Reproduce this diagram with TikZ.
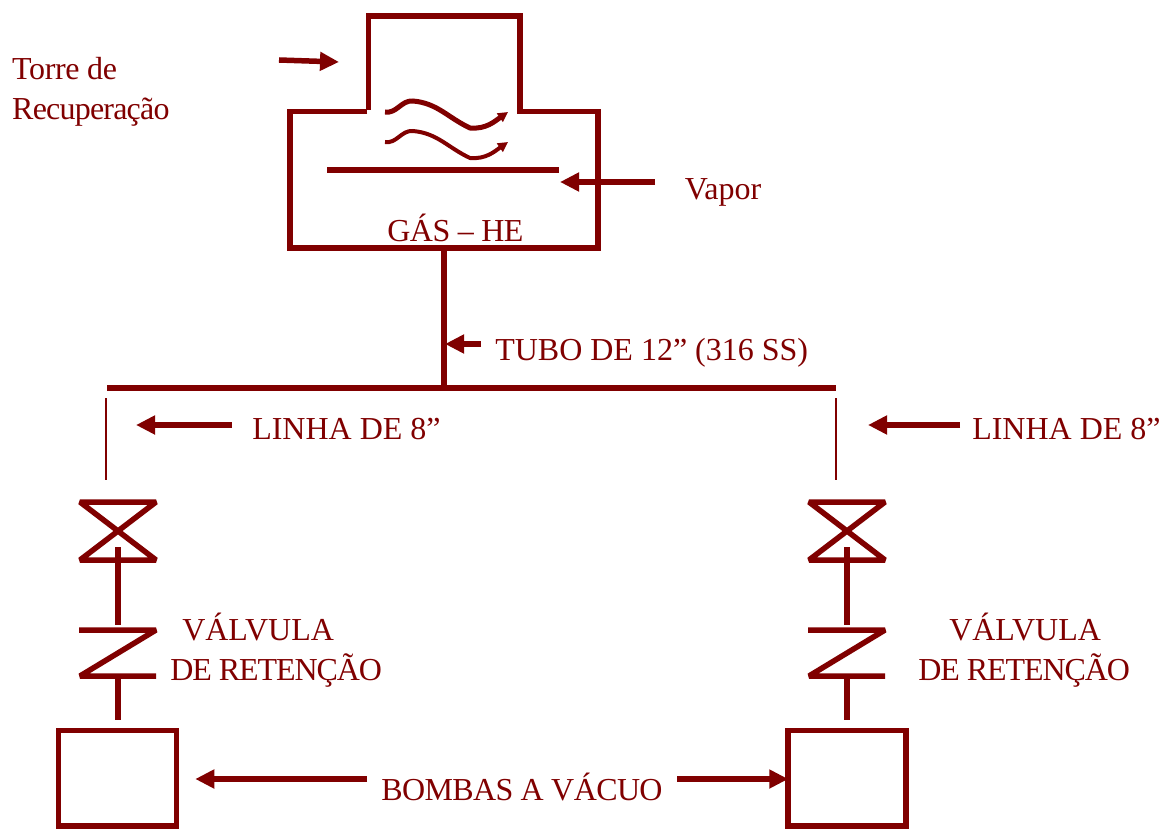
\documentclass[tikz,border=0pt]{standalone}
\usepackage{fontspec}
\setmainfont{Liberation Serif}
\usepackage{color,tikz}
\usetikzlibrary{arrows.meta}
\definecolor{tower}{RGB}{128,0,0}

\begin{document}
\begin{tikzpicture}[x=1pt,y=-1pt,line width=5.5pt,draw=tower,text=tower,
	lbl/.style ={anchor=base west, inner sep=0pt, font=\fontsize{32}{36}\selectfont},
	tight/.style ={font=\fontsize{32}{36}\selectfont\addfontfeature{LetterSpace=#1}},
	pump/.style ={rectangle, draw, line width=5.5pt, minimum width=118pt, minimum height=95.5pt},
	tip/.style ={-{Stealth[length=19pt,width=18pt,inset=0pt]}},
	wavetip/.style ={-{Stealth[length=10pt,width=10pt,inset=0pt]}},
	thin pipe/.style ={line width=1.5pt}]
		\useasboundingbox (0,0) rectangle (1161,829);
		% tower
		\draw[line join=miter] (367,111.5) -- (290,111.5) -- (290,248) -- (598,248) -- (598,111.5) -- (520,111.5) -- (520,16) -- (368.5,16) -- (368.5,110);
		\coordinate (p1) at (327,170);
		\coordinate (p2) at (559,170);
		\draw (p1) -- (p2);
		\draw[line width=5pt,wavetip] (385,112) [out=-10,in=175] to (413,101) [out=-5,in=155] to (470,128) [out=-5,in=215] to (508,112);
		\draw[line width=4pt,wavetip] (385,142) [out=-10,in=175] to (413,131) [out=-5,in=155] to (470,158) [out=-5,in=215] to (508,142);
		% texts
		\node[lbl,tight=-1.2] (torre) at (9.5,80) {Torre de};
		\node[lbl,tight=-2.5] (recup) at (9.5,120) {Recuperação};
		\node[lbl] (vapor) at (682,200) {Vapor};
		\node[lbl,tight=-1.5] (gas) at (384.5,241) {GÁS – HE};
		\node[lbl] (tubo) at (492.5,360) {TUBO DE 12” (316 SS)};
		\node[lbl] (l1) at (249.5,439) {LINHA DE 8”};
		\node[lbl] (l2) at (969.5,439) {LINHA DE 8”};
		\node[lbl] (v1) at (179.5,640) {VÁLVULA};
		\node[lbl,tight=-3.3] (r1) at (167.5,680) {DE RETENÇÃO};
		\node[lbl] (v2) at (946.5,640) {VÁLVULA};
		\node[lbl,tight=-3.3] (r2) at (915.5,680) {DE RETENÇÃO};
		\node[lbl,tight=-1.9] (bombas) at (378.5,800) {BOMBAS A VÁCUO};
		% pipes
		\coordinate (h1) at (107,388);
		\coordinate (h2) at (836,388);
		\coordinate (h3) at (444,388);
		\coordinate (t1) at (444,248);
		\draw (h1) -- (h2);
		\draw (t1) -- (h3);
		\coordinate (a1) at (106,398);
		\coordinate (b1) at (106,480);
		\coordinate (a2) at (836,398);
		\coordinate (b2) at (836,480);
		\draw[thin pipe] (a1) -- (b1);
		\draw[thin pipe] (a2) -- (b2);
		% pumps
		\node[pump] (m1) at (117.5,778) {};
		\node[pump] (m2) at (847,778) {};
		% valves
		\foreach \n/\x in {1/118,2/847}{
			\draw[line join=bevel] (\x-38,502) -- (\x+38,502) -- (\x-38,560) -- (\x+38,560) -- cycle;
			\draw (\x,547) -- (\x,625);
			\draw[line join=bevel] (\x-39,630) -- (\x+38,630) -- (\x-38,676) -- (\x+38,676);
			\draw (\x,679) -- (\x,720);
		}
		% arrows
		\coordinate (c1) at (279,60);
		\coordinate (c2) at (339,62);
		\draw[tip] (c1) -- (c2);
		\coordinate (c3) at (655,182);
		\coordinate (c4) at (560,182);
		\draw[tip] (c3) -- (c4);
		\coordinate (c5) at (481,344);
		\coordinate (c6) at (445,344);
		\draw[tip] (c5) -- (c6);
		\coordinate (c7) at (232,425);
		\coordinate (c8) at (136,425);
		\draw[tip] (c7) -- (c8);
		\coordinate (c9) at (960,425);
		\coordinate (c10) at (868,425);
		\draw[tip] (c9) -- (c10);
		\draw[tip,shorten <=11.5pt,shorten >=16pt] (bombas.west |- 0,779) -- (m1.east |- 0,779);
		\draw[tip,shorten <=12pt,shorten >=-3pt] (bombas.east |- 0,779) -- (m2.west |- 0,779);
	\end{tikzpicture}
\end{document}
